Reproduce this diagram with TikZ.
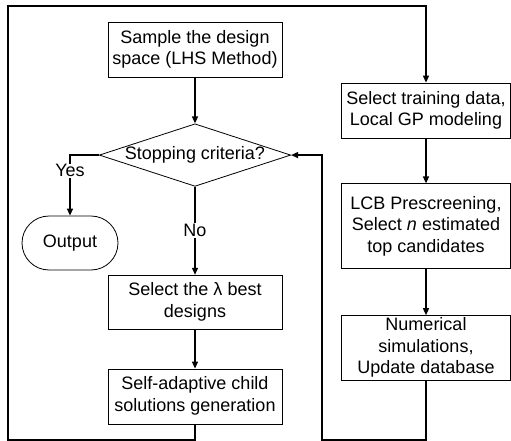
\documentclass[tikz,border=0pt]{standalone}
\usepackage{fontspec}
\setmainfont{Liberation Sans}
\usepackage{tikz}
\usetikzlibrary{positioning, shapes.geometric, arrows.meta}
\setlength{\tabcolsep}{1pt}

\begin{document}
\begin{tikzpicture}[font=\fontsize{18}{21.6}\selectfont,
  box/.style={draw, rectangle, line width=0.8pt, inner sep=0pt},
  cond/.style={draw, diamond, aspect=3.06, line width=0.8pt, inner sep=0pt, minimum width=190pt, minimum height=62pt},
  flow/.style={line width=1.4pt, -{Triangle[length=7pt, width=6pt]}},
  link/.style={line width=1.4pt}]

  \useasboundingbox (0,0) rectangle (511pt,-441pt);

  \node[box, minimum width=174pt, minimum height=55pt] (n1) at (195pt,-49.5pt) {
  \begin{tabular}{c}
    Sample the design \\
    space (LHS Method)
  \end{tabular}
  };

  \node[cond, below=46pt of n1] (n2) {Stopping criteria?};

  \node[draw, rectangle, rounded corners=27pt, line width=0.8pt, minimum width=96pt, minimum height=54pt] (n3) at (70pt,-243pt) {Output};

  \node[box, minimum width=174pt, minimum height=54pt, below=88pt of n2] (n4) {
  \begin{tabular}{c}
    Select the λ best \\
    designs
  \end{tabular}
  };

  \node[box, minimum width=174pt, minimum height=55pt, below=39pt of n4] (n5) {
  \begin{tabular}{c}
    Self-adaptive child \\
    solutions generation
  \end{tabular}
  };

  \node[box, minimum width=169pt, minimum height=55pt] (n6) at (426pt,-110.5pt) {
  \begin{tabular}{c}
    Select training data, \\
    Local GP modeling
  \end{tabular}
  };

  \node[box, minimum width=169pt, minimum height=85pt, below=45pt of n6] (n7) {
  \begin{tabular}{c}
    LCB Prescreening, \\
    Select \textit{n} estimated \\
    top candidates
  \end{tabular}
  };

  \node[box, minimum width=169pt, minimum height=63pt, below=46pt of n7] (n8) {
  \begin{tabular}{c}
    Numerical \\
    simulations, \\
    Update database
  \end{tabular}
  };

  % corners of the two loops
  \coordinate (c1) at (8pt,-440pt);
  \coordinate (c2) at (8pt,-6pt);
  \coordinate (c3) at (322pt,-440pt);

\draw[flow] (n1) -- (n2);
\draw[flow] (n2.west) -| node[pos=0.63, fill=white, inner sep=1pt] {Yes} (n3.north);
\draw[flow] (n2.south) -- node[fill=white, inner sep=1pt] {No} (n4.north);
\draw[flow] (n4) -- (n5);
\draw[flow] (n6) -- (n7);
\draw[flow] (n7) -- (n8);

\draw[flow] (n5.south) |- (c1) -- (c2) -| (n6.north);
\draw[flow] (n8.south) |- (c3) |- (n2.east);

\end{tikzpicture}
\end{document}
